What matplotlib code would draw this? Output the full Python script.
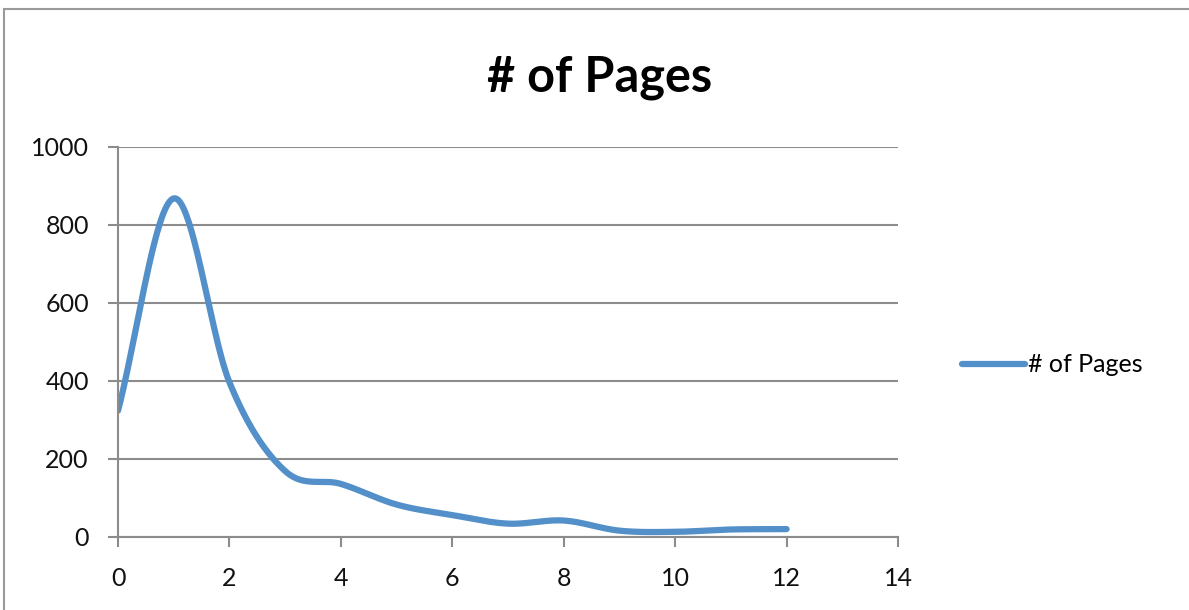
import numpy as np
import matplotlib
matplotlib.use("Agg")
import matplotlib.pyplot as plt
from matplotlib.patches import Rectangle

x_vals = [0, 1, 2, 3, 4, 5, 6, 7, 8, 9, 10, 11, 12]
pages = [323, 868, 396, 168, 135, 82, 55, 33, 41, 15, 12, 18, 19]
series_name = "# of Pages"
title = "# of Pages"
x_ticks = [0, 2, 4, 6, 8, 10, 12, 14]
y_ticks = [0, 200, 400, 600, 800, 1000]

plt.rcParams['font.family'] = ['Lato', 'DejaVu Sans']

def catmull_rom(xs, ys, n=40):
    xs = np.asarray(xs, float); ys = np.asarray(ys, float)
    P = np.column_stack([xs, ys])
    P = np.vstack([2 * P[0] - P[1], P, 2 * P[-1] - P[-2]])
    out = []
    for i in range(1, len(P) - 2):
        p0, p1, p2, p3 = P[i - 1], P[i], P[i + 1], P[i + 2]
        t = np.linspace(0, 1, n, endpoint=False)[:, None]
        c1 = p1 + (p2 - p0) / 6.0
        c2 = p2 - (p3 - p1) / 6.0
        pts = ((1 - t) ** 3) * p1 + 3 * ((1 - t) ** 2) * t * c1 + 3 * (1 - t) * t ** 2 * c2 + t ** 3 * p2
        out.append(pts)
    out.append(P[-2][None, :])
    out = np.vstack(out)
    return out[:, 0], out[:, 1]

fig = plt.figure(figsize=(11.89, 6.10), dpi=100)
fig.patches.append(Rectangle((4 / 1189, -0.1), 1.2, 1 - 9 / 610 + 0.1, transform=fig.transFigure,
                             fill=False, edgecolor='#9a9a9a', linewidth=1.5))

ax = fig.add_axes([118 / 1189, 1 - 536.5 / 610, (898 - 118) / 1189, (536.5 - 147) / 610])
sx, sy = catmull_rom(x_vals, pages)
line_color = '#5390C9'
ax.plot(sx, sy, color=line_color, linewidth=4.5, solid_capstyle='round', label=series_name)

ax.set_xlim(0, 14)
ax.set_ylim(0, 1000)
ax.set_xticks(x_ticks)
ax.set_yticks(y_ticks)
for s in ['top', 'right']:
    ax.spines[s].set_visible(False)
for s in ['left', 'bottom']:
    ax.spines[s].set_color('#8c8c8c')
    ax.spines[s].set_linewidth(1.5)
ax.grid(axis='y', color='#8c8c8c', linewidth=1.5)
ax.set_axisbelow(True)
ax.tick_params(axis='both', colors='#8c8c8c', length=7, width=1.5, labelcolor='#111111', labelsize=18)
ax.tick_params(axis='y', pad=14)
ax.tick_params(axis='x', pad=15)

fig.text(600 / 1189, 1 - 92 / 610, title, ha='center', va='baseline', fontsize=35, fontweight='bold', color='black')

leg = ax.legend(loc='center left', bbox_to_anchor=(962 / 1189, 1 - 365 / 610), bbox_transform=fig.transFigure,
                frameon=False, fontsize=18, handlelength=2.5, handletextpad=0.15, borderaxespad=0,
                borderpad=0)

fig.savefig('out.png', dpi=100)
